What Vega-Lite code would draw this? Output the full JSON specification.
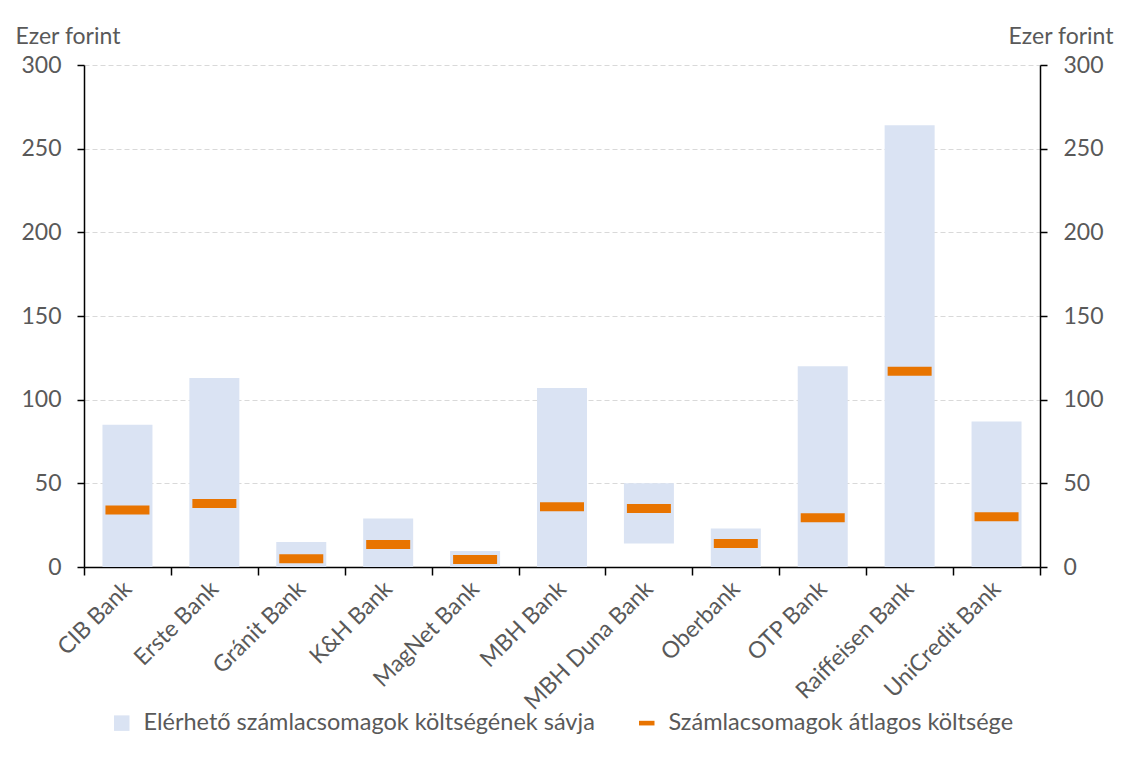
{
  "$schema": "https://vega.github.io/schema/vega-lite/v6.json",
  "width": 956,
  "height": 502,
  "autosize": {"type": "none"},
  "padding": {"left": 84, "top": 65, "right": 84, "bottom": 196},
  "background": "white",
  "config": {
    "font": "Lato",
    "view": {"stroke": null},
    "axis": {"labelFont": "Lato", "titleFont": "Lato", "labelColor": "#595959", "titleColor": "#595959", "labelFontSize": 23, "titleFontSize": 23, "titleFontWeight": "normal", "domainColor": "#000000", "tickColor": "#000000", "domainWidth": 1.5, "tickWidth": 1.5}
  },
  "data": {
    "values": [
      {"bank": "CIB Bank", "min": 0, "max": 85, "mean": 34},
      {"bank": "Erste Bank", "min": 0, "max": 113, "mean": 38},
      {"bank": "Gránit Bank", "min": 0, "max": 15, "mean": 5},
      {"bank": "K&H Bank", "min": 0, "max": 29, "mean": 13.5},
      {"bank": "MagNet Bank", "min": 0, "max": 9.5, "mean": 4.5},
      {"bank": "MBH Bank", "min": 0, "max": 107, "mean": 36},
      {"bank": "MBH Duna Bank", "min": 14, "max": 50, "mean": 35},
      {"bank": "Oberbank", "min": 0, "max": 23, "mean": 14},
      {"bank": "OTP Bank", "min": 0, "max": 120, "mean": 29.5},
      {"bank": "Raiffeisen Bank", "min": 0, "max": 264, "mean": 117},
      {"bank": "UniCredit Bank", "min": 0, "max": 87, "mean": 30}
    ]
  },
  "layer": [
    {
      "mark": {"type": "bar", "width": 50},
      "encoding": {
        "x": {
          "field": "bank", "type": "nominal", "sort": null,
          "scale": {"paddingInner": 0, "paddingOuter": 0},
          "axis": {"title": null, "labelAngle": -45, "labelAlign": "right", "labelBaseline": "middle", "labelPadding": 10, "tickBand": "extent", "tickSize": 8, "grid": false}
        },
        "y": {
          "field": "min", "type": "quantitative",
          "scale": {"domain": [0, 300], "nice": false},
          "axis": {"title": "Ezer forint", "titleAngle": 0, "titleAlign": "left", "titleBaseline": "alphabetic", "titleX": -69, "titleY": -22, "values": [0, 50, 100, 150, 200, 250, 300], "tickSize": 7, "labelPadding": 16, "grid": true, "gridColor": "#D9D9D9", "gridDash": [5, 3], "gridWidth": 1}
        },
        "y2": {"field": "max"},
        "color": {
          "datum": "Elérhető számlacsomagok költségének sávja",
          "type": "nominal",
          "scale": {"domain": ["Elérhető számlacsomagok költségének sávja", "Számlacsomagok átlagos költsége"], "range": ["#DAE3F3", "#E87400"]},
          "legend": {
            "title": null, "orient": "none", "direction": "horizontal", "legendX": 26, "legendY": 646,
            "labelFont": "Lato", "labelFontSize": 23.5, "labelColor": "#595959", "labelLimit": 700, "labelOffset": 10,
            "symbolSize": 240, "symbolOpacity": 1, "symbolStrokeWidth": 0, "columnPadding": 40,
            "encode": {"symbols": {"update": {"shape": {"signal": "datum.value == 'Számlacsomagok átlagos költsége' ? 'M-1,-0.3H1V0.3H-1Z' : 'square'"}}}}
          }
        }
      }
    },
    {
      "mark": {"type": "tick", "thickness": 9, "size": 44, "opacity": 1},
      "encoding": {
        "x": {"field": "bank", "type": "nominal", "sort": null},
        "y": {
          "field": "mean", "type": "quantitative",
          "scale": {"domain": [0, 300], "nice": false},
          "axis": {"orient": "right", "title": "Ezer forint", "titleAngle": 0, "titleAlign": "right", "titleBaseline": "alphabetic", "titleX": 73, "titleY": -22, "values": [0, 50, 100, 150, 200, 250, 300], "tickSize": 7, "labelPadding": 16, "grid": false}
        },
        "color": {"datum": "Számlacsomagok átlagos költsége", "type": "nominal"}
      }
    }
  ],
  "resolve": {"scale": {"y": "independent"}}
}
